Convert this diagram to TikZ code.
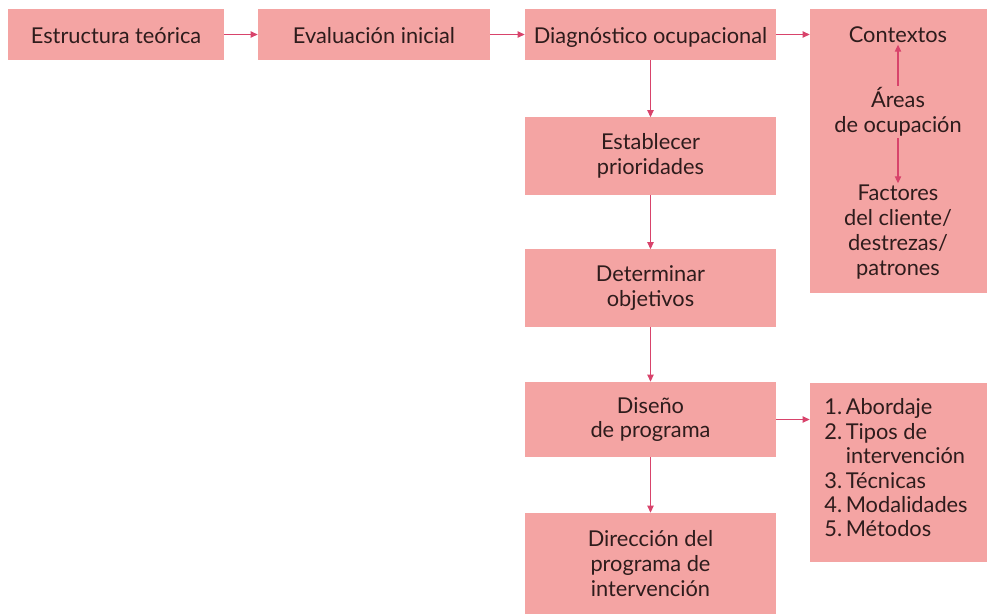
\documentclass[tikz,border=0pt]{standalone}
\usepackage{fontspec}
\setmainfont{Lato}
\usepackage{xcolor}
\usepackage{tikz}
\usetikzlibrary{arrows.meta,positioning}

\definecolor{boxpink}{HTML}{F4A4A3}
\definecolor{linkred}{HTML}{D8436B}
\definecolor{inkdark}{HTML}{2E1C1C}

\begin{document}
\begin{tikzpicture}[
    x=0.025cm, y=-0.025cm,
    stage/.style={rectangle, fill=boxpink, minimum width=6.275cm, minimum height=1.925cm, align=center, text=inkdark, font=\fontsize{15.5}{17.7}\selectfont, inner sep=2pt},
    label/.style={align=center, text=inkdark, font=\fontsize{15.5}{17.7}\selectfont, inner sep=1pt},
    toprow/.style={stage, minimum height=1.275cm, text height=16pt, text depth=3pt},
    arrow/.style={-{Triangle[length=5pt,width=4.5pt]}, draw=linkred, line width=0.8pt}
]
    \useasboundingbox (0,0) rectangle (987,614);

    % Top row
    \node[toprow, minimum width=5.4cm] (estr) at (116,34.5) {Estructura teórica};
    \node[toprow, minimum width=5.8cm] (eval) at (374,34.5) {Evaluación inicial};
    \node[toprow] (diag) at (650.5,34.5) {Diagnóstico ocupacional};

    % Column
    \node[stage] (prio) at (650.5,156) {Establecer\\prioridades};
    \node[stage] (obj) at (650.5,288) {Determinar\\objetivos};
    \node[stage, minimum height=1.875cm] (dise) at (650.5,419.5) {Diseño\\de programa};
    \node[stage, minimum height=2.525cm] (dir) at (650.5,563.5) {Dirección del\\programa de\\intervención};

    % Right boxes
    \node[stage, minimum width=4.425cm, minimum height=7.1cm] (ctx) at (898.5,151) {};
    \node[label] (cont) at (898,35) {Contextos};
    \node[label] (areas) at (898,112) {Áreas\\de ocupación};
    \node[label] (fact) at (898,232) {Factores\\del cliente/\\destrezas/\\patrones};

    \node[stage, minimum width=4.425cm, minimum height=4.475cm] (lst) at (898.5,472.5) {};
    \node[label, align=left] (items) at (896,471) {%
      \renewcommand{\arraystretch}{0.98}%
      \begin{tabular}{@{}l@{\,}l@{}}
        1. & Abordaje\\
        2. & Tipos de\\
           & intervención\\
        3. & Técnicas\\
        4. & Modalidades\\
        5. & Métodos
      \end{tabular}};

    % Arrows
    \draw[arrow] (estr) -- (eval);
    \draw[arrow] (eval) -- (diag);
    \draw[arrow] (diag.east) -- (diag.east -| ctx.west);
    \draw[arrow] (diag) -- (prio);
    \draw[arrow] (prio) -- (obj);
    \draw[arrow] (obj) -- (dise);
    \draw[arrow] (dise) -- (dir);
    \draw[arrow] (dise.east) -- (dise.east -| lst.west);
    \draw[arrow] (areas) -- (cont);
    \draw[arrow] (areas) -- (fact);

\end{tikzpicture}
\end{document}
